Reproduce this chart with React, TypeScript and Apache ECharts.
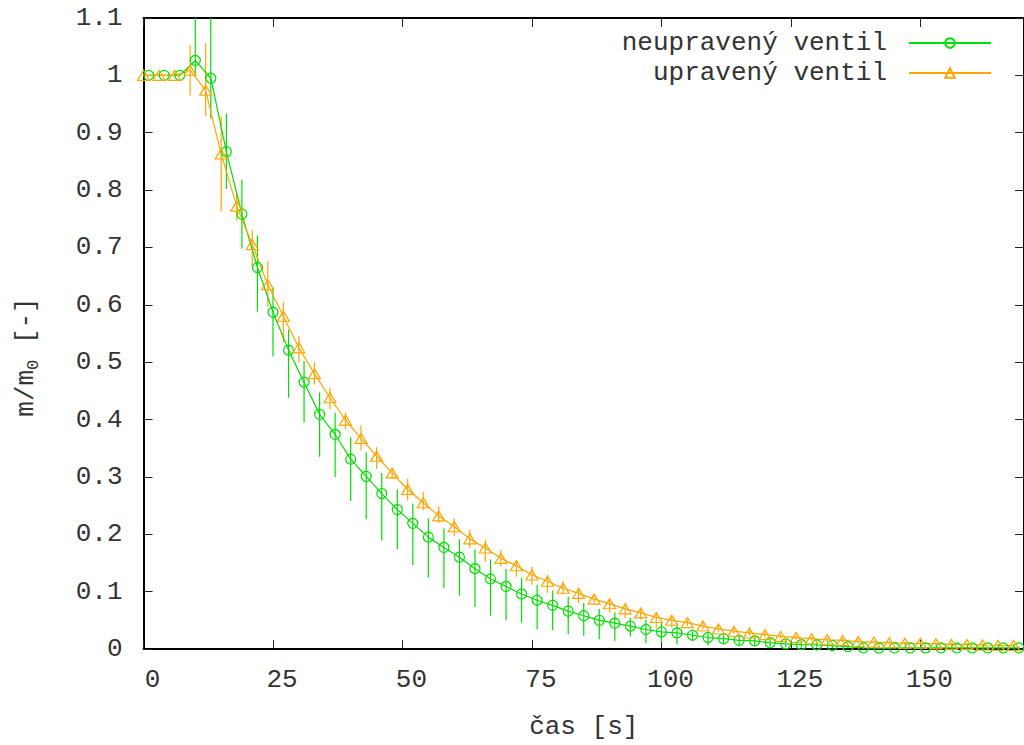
import React, { useEffect, useRef } from "react";
import * as echarts from "echarts";

const FONT = '"Liberation Mono", "DejaVu Sans Mono", monospace';
const GREEN = "#00e000";
const ORANGE = "#ffa500";

const seriesNames = ["neupravený ventil", "upravený ventil"];
const xTitle = "čas [s]";

// neupravený ventil (green, circles)
const tGreen = [1, 4, 7, 10, 13, 16, 19, 22, 25, 28, 31, 34, 37, 40, 43, 46, 49, 52, 55, 58, 61, 64, 67, 70, 73, 76, 79, 82, 85, 88, 91, 94, 97, 100, 103, 106, 109, 112, 115, 118, 121, 124, 127, 130, 133, 136, 139, 142, 145, 148, 151, 154, 157, 160, 163, 166, 169];
const yGreen = [1.0, 1.0, 1.0, 1.026, 0.995, 0.867, 0.758, 0.665, 0.587, 0.521, 0.465, 0.409, 0.374, 0.331, 0.301, 0.271, 0.243, 0.219, 0.195, 0.177, 0.16, 0.14, 0.122, 0.109, 0.096, 0.085, 0.076, 0.066, 0.058, 0.05, 0.045, 0.04, 0.034, 0.03, 0.028, 0.024, 0.02, 0.018, 0.015, 0.014, 0.011, 0.009, 0.0075, 0.007, 0.006, 0.004, 0.002, 0.0015, 0.002, 0.002, 0.002, 0.002, 0.002, 0.002, 0.002, 0.002, 0.002];
const loGreen = [1.0, 1.0, 1.0, 1.0, 0.925, 0.802, 0.698, 0.588, 0.51, 0.438, 0.395, 0.335, 0.3, 0.258, 0.226, 0.189, 0.174, 0.146, 0.124, 0.106, 0.093, 0.073, 0.058, 0.05, 0.046, 0.034, 0.033, 0.026, 0.023, 0.017, 0.014, 0.022, 0.01, 0.012, 0.008, 0.014, 0.006, 0.008, 0.007, 0.006, 0.004, 0.003, 0.002, 0.002, 0.001, 0.001, 0.0, 0.0, 0.0, 0.0, 0.0, 0.0, 0.0, 0.0, 0.0, 0.0, 0.0];
const hiGreen = [1.0, 1.0, 1.0, 1.1, 1.1, 0.933, 0.818, 0.721, 0.63, 0.557, 0.502, 0.447, 0.412, 0.369, 0.343, 0.307, 0.278, 0.253, 0.228, 0.21, 0.191, 0.174, 0.156, 0.14, 0.124, 0.112, 0.102, 0.091, 0.08, 0.07, 0.064, 0.054, 0.051, 0.045, 0.041, 0.031, 0.028, 0.025, 0.023, 0.022, 0.018, 0.015, 0.013, 0.012, 0.01, 0.008, 0.005, 0.004, 0.004, 0.004, 0.004, 0.004, 0.004, 0.004, 0.004, 0.004, 0.004];

// upravený ventil (orange, triangles)
const tOrange = [0, 3, 6, 9, 12, 15, 18, 21, 24, 27, 30, 33, 36, 39, 42, 45, 48, 51, 54, 57, 60, 63, 66, 69, 72, 75, 78, 81, 84, 87, 90, 93, 96, 99, 102, 105, 108, 111, 114, 117, 120, 123, 126, 129, 132, 135, 138, 141, 144, 147, 150, 153, 156, 159, 162, 165, 168];
const yOrange = [1.0, 1.0, 1.0, 1.009, 0.974, 0.863, 0.772, 0.705, 0.635, 0.58, 0.525, 0.48, 0.438, 0.399, 0.367, 0.336, 0.307, 0.278, 0.255, 0.232, 0.213, 0.192, 0.176, 0.158, 0.145, 0.129, 0.118, 0.106, 0.097, 0.087, 0.079, 0.07, 0.063, 0.055, 0.05, 0.046, 0.04, 0.035, 0.031, 0.028, 0.025, 0.022, 0.02, 0.018, 0.016, 0.015, 0.013, 0.012, 0.011, 0.01, 0.01, 0.009, 0.008, 0.008, 0.007, 0.0065, 0.006];
const loOrange = [1.0, 1.0, 1.0, 0.965, 0.929, 0.763, 0.747, 0.666, 0.596, 0.534, 0.499, 0.461, 0.418, 0.383, 0.346, 0.314, 0.297, 0.259, 0.242, 0.219, 0.197, 0.176, 0.152, 0.144, 0.126, 0.112, 0.098, 0.095, 0.08, 0.078, 0.063, 0.054, 0.051, 0.037, 0.037, 0.04, 0.034, 0.03, 0.026, 0.023, 0.02, 0.018, 0.016, 0.014, 0.012, 0.011, 0.01, 0.009, 0.008, 0.007, 0.007, 0.006, 0.005, 0.005, 0.004, 0.004, 0.003];
const hiOrange = [1.0, 1.0, 1.0, 1.053, 1.056, 0.929, 0.796, 0.73, 0.676, 0.605, 0.545, 0.5, 0.456, 0.412, 0.389, 0.352, 0.314, 0.297, 0.274, 0.249, 0.228, 0.208, 0.19, 0.173, 0.155, 0.144, 0.129, 0.118, 0.106, 0.094, 0.086, 0.077, 0.07, 0.063, 0.058, 0.051, 0.046, 0.041, 0.036, 0.033, 0.03, 0.026, 0.024, 0.022, 0.02, 0.019, 0.017, 0.015, 0.014, 0.013, 0.013, 0.012, 0.011, 0.011, 0.01, 0.009, 0.009];

const X_MIN = 0;
const X_MAX = 170;
const X_STEP = 25;
const Y_MIN = 0;
const Y_MAX = 1.1;
const Y_STEP = 0.1;

function errorBarSeries(name: string, color: string, t: number[], lo: number[], hi: number[]) {
  return {
    name,
    type: "custom",
    silent: true,
    encode: { x: 0, y: [1, 2] },
    data: t.map((x, i) => [x, lo[i], hi[i]]),
    renderItem: (_params: any, api: any) => {
      const x = api.value(0);
      const a = api.coord([x, api.value(1)]);
      const b = api.coord([x, api.value(2)]);
      return {
        type: "line",
        shape: { x1: a[0], y1: a[1], x2: b[0], y2: b[1] },
        style: { stroke: color, lineWidth: 1.2 },
      };
    },
  };
}

export default function App() {
  const ref = useRef<HTMLDivElement>(null);

  useEffect(() => {
    if (!ref.current) return;
    const chart = echarts.init(ref.current, null, { renderer: "svg" });
    const txt = { fontFamily: FONT, fontSize: 26, color: "#333" };
    const axisLine = { show: true, onZero: false, lineStyle: { color: "#000", width: 2 } };
    const axisTick = { show: true, inside: true, length: 9, lineStyle: { color: "#222", width: 1 } };
    const option: any = {
      animation: false,
      backgroundColor: "#ffffff",
      grid: { left: 143.5, top: 18, width: 884, height: 635 },
      xAxis: [
        {
          type: "value", min: X_MIN, max: X_MAX, interval: X_STEP, position: "bottom",
          axisLine, axisTick,
          axisLabel: { ...txt, showMaxLabel: false, margin: 18, padding: [0, 0, 0, 18] },
          splitLine: { show: false },
          name: xTitle, nameLocation: "middle", nameGap: 65,
          nameTextStyle: { ...txt },
        },
        {
          type: "value", min: X_MIN, max: X_MAX, interval: X_STEP, position: "top",
          axisLine, axisTick, axisLabel: { show: false }, splitLine: { show: false },
        },
      ],
      yAxis: [
        {
          type: "value", min: Y_MIN, max: Y_MAX, interval: Y_STEP, position: "left",
          axisLine, axisTick,
          axisLabel: { ...txt, margin: 21, padding: [6, 0, 0, 0] },
          splitLine: { show: false },
        },
        {
          type: "value", min: Y_MIN, max: Y_MAX, interval: Y_STEP, position: "right",
          axisLine, axisTick, axisLabel: { show: false }, splitLine: { show: false },
        },
      ],
      legend: {
        orient: "vertical", right: 32, top: 28, align: "right",
        itemWidth: 82, itemHeight: 12, itemGap: 0, padding: 0,
        textStyle: { ...txt, lineHeight: 30, padding: [0, 17, 0, 0] },
        data: seriesNames,
      },
      graphic: [
        {
          type: "text", x: 26, y: 357, rotation: Math.PI / 2,
          style: {
            text: "{a|m/m}{s|0}{a| [-]}",
            align: "center", verticalAlign: "middle",
            rich: {
              a: { fontFamily: FONT, fontSize: 26, fill: "#333", lineHeight: 32, verticalAlign: "middle" },
              s: { fontFamily: FONT, fontSize: 17, fill: "#333", lineHeight: 32, verticalAlign: "bottom" },
            },
          },
        },
      ],
      series: [
        errorBarSeries("err-green", GREEN, tGreen, loGreen, hiGreen),
        {
          name: seriesNames[0], type: "line",
          data: tGreen.map((x, i) => [x, yGreen[i]]),
          symbol: "circle", symbolSize: 10,
          lineStyle: { color: GREEN, width: 1.2 },
          itemStyle: { color: "rgba(0,0,0,0)", borderColor: GREEN, borderWidth: 1.2 },
          emphasis: { disabled: true },
        },
        errorBarSeries("err-orange", ORANGE, tOrange, loOrange, hiOrange),
        {
          name: seriesNames[1], type: "line",
          data: tOrange.map((x, i) => [x, yOrange[i]]),
          symbol: "triangle", symbolSize: [12, 10],
          lineStyle: { color: ORANGE, width: 1.2 },
          itemStyle: { color: "rgba(0,0,0,0)", borderColor: ORANGE, borderWidth: 1.2 },
          emphasis: { disabled: true },
        },
      ],
    };
    chart.setOption(option);
    return () => chart.dispose();
  }, []);

  return (
    <div
      ref={ref}
      style={{ position: "absolute", left: 0, top: 0, width: 1024, height: 745, background: "#fff" }}
    />
  );
}
